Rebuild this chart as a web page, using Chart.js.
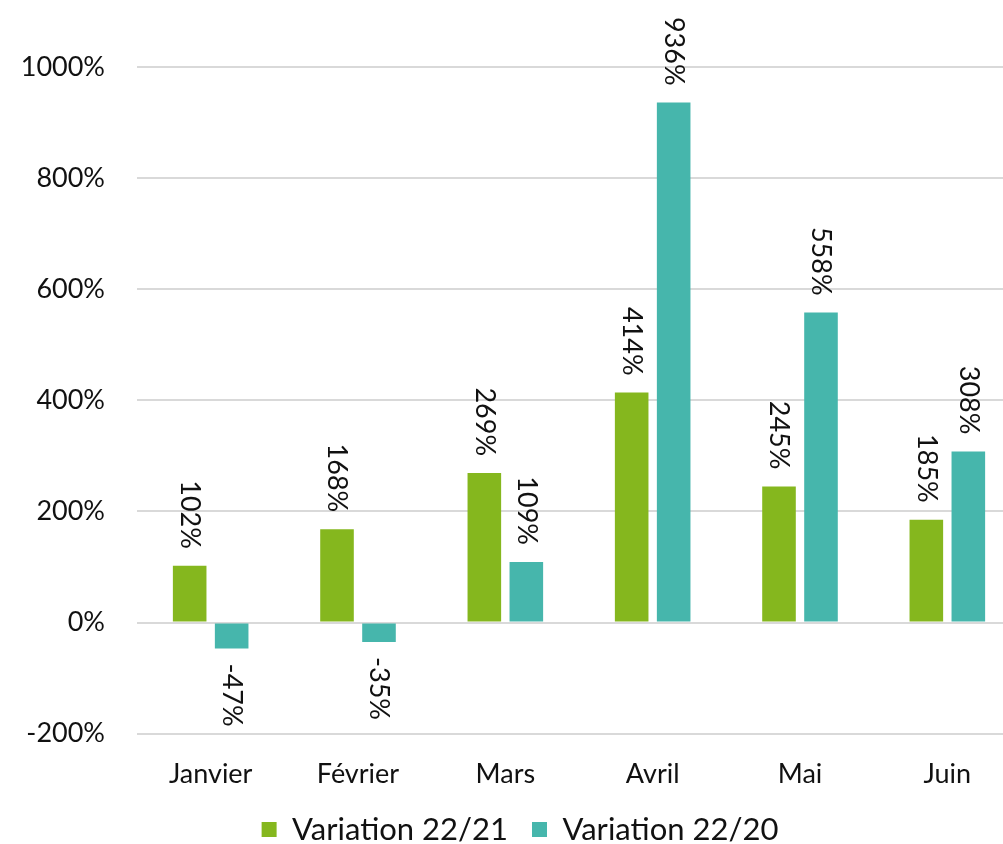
<!DOCTYPE html>
<html>
<head>
    <meta charset="utf-8">
    <title>Variation mensuelle</title>
    <script src="https://cdn.jsdelivr.net/npm/chart.js@4.4.0/dist/chart.umd.min.js"></script>
    <style>
        html, body {
            margin: 0;
            padding: 0;
            background: #ffffff;
            overflow: hidden;
        }
        .wrap {
            width: 1060px;
            height: 844px;
        }
    </style>
</head>
<body>
    <div class="wrap">
        <canvas id="chart" width="1060" height="844"></canvas>
    </div>

    <script>
        // données
        const mois = ['Janvier', 'Février', 'Mars', 'Avril', 'Mai', 'Juin'];
        const variation2221 = [102, 168, 269, 414, 245, 185];
        const variation2220 = [-47, -35, 109, 936, 558, 308];
        const nomsSeries = ['Variation 22/21', 'Variation 22/20'];
        const yTicks = [-200, 0, 200, 400, 600, 800, 1000];

        const police = 'Lato, "Open Sans", sans-serif';

        // étiquettes verticales au-dessus / en dessous des barres
        const etiquettes = {
            id: 'etiquettes',
            afterDatasetsDraw(chart) {
                const ctx = chart.ctx;
                ctx.save();
                ctx.font = '27px ' + police;
                ctx.fillStyle = '#111';
                ctx.textBaseline = 'middle';
                chart.data.datasets.forEach((ds, i) => {
                    chart.getDatasetMeta(i).data.forEach((bar, j) => {
                        const v = ds.data[j];
                        ctx.save();
                        if (v >= 0) {
                            ctx.translate(bar.x, bar.y - 17);
                            ctx.rotate(Math.PI / 2);
                            ctx.textAlign = 'right';
                        } else {
                            ctx.translate(bar.x, bar.y + 15);
                            ctx.rotate(Math.PI / 2);
                            ctx.textAlign = 'left';
                        }
                        ctx.fillText(v + '%', 0, 0);
                        ctx.restore();
                    });
                });
                ctx.restore();
            }
        };

        const ctx = document.getElementById('chart').getContext('2d');
        new Chart(ctx, {
            type: 'bar',
            data: {
                labels: mois,
                datasets: [{
                    label: nomsSeries[0],
                    data: variation2221,
                    backgroundColor: '#85B71E',
                    categoryPercentage: 0.57,
                    barPercentage: 0.8
                }, {
                    label: nomsSeries[1],
                    data: variation2220,
                    backgroundColor: '#46B6AC',
                    categoryPercentage: 0.57,
                    barPercentage: 0.8
                }]
            },
            options: {
                responsive: false,
                animation: false,
                layout: {
                    padding: { top: 67, right: 39, bottom: -11, left: 19 }
                },
                plugins: {
                    tooltip: { enabled: false },
                    legend: {
                        position: 'bottom',
                        labels: {
                            boxWidth: 15,
                            boxHeight: 15,
                            padding: 24,
                            color: '#111',
                            font: { family: police, size: 31 }
                        }
                    }
                },
                scales: {
                    x: {
                        grid: { display: false, tickLength: 24 },
                        border: { display: false },
                        ticks: {
                            padding: 0,
                            color: '#111',
                            font: { family: police, size: 27 }
                        }
                    },
                    y: {
                        min: yTicks[0],
                        max: yTicks[yTicks.length - 1],
                        afterBuildTicks: (s) => { s.ticks = yTicks.map(v => ({ value: v })); },
                        afterFit: (s) => { s.width = 118; },
                        grid: { color: '#d9d9d9', lineWidth: 2, drawTicks: false },
                        border: { display: false },
                        ticks: {
                            padding: 32,
                            color: '#111',
                            font: { family: police, size: 27 },
                            callback: (v) => v + '%'
                        }
                    }
                }
            },
            plugins: [etiquettes]
        });
    </script>
</body>
</html>
